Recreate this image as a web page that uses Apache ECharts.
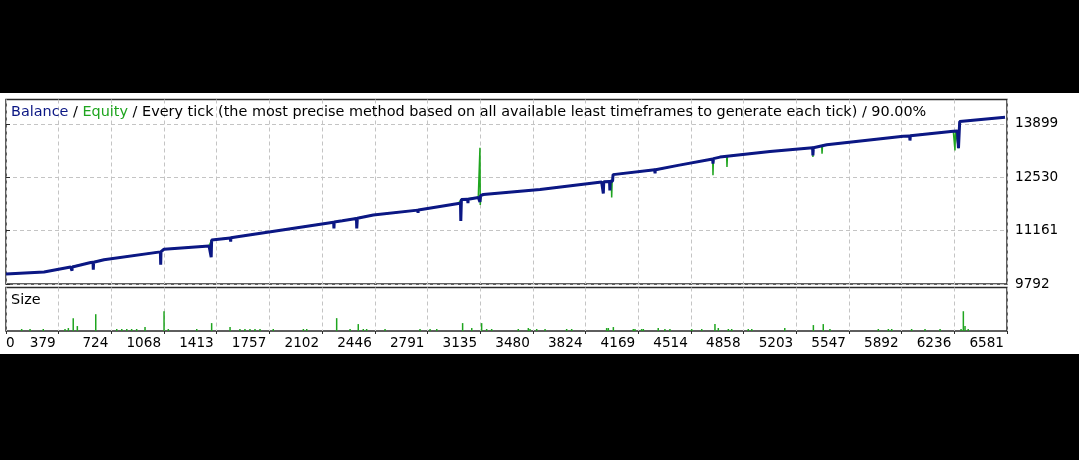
<!DOCTYPE html>
<html>
<head>
<meta charset="utf-8">
<script src="https://cdn.jsdelivr.net/npm/echarts@6/dist/echarts.min.js"></script>
<style>
  html, body { margin: 0; padding: 0; background: #000; }
  #paper { position: absolute; left: 0; top: 93px; width: 1079px; height: 261px; background: #fff; }
  #chart { position: absolute; left: 0; top: 0; width: 1079px; height: 460px; }
</style>
</head>
<body>
<div id="paper"></div>
<div id="chart"></div>
<script>
// ---- data (trade number, account value) ----
const balance = [
  [0,10047],[250,10098],[425,10226],
  [432,10228],[434,10133],[436,10230],
  [557,10343],
  [572,10347],[574,10157],[576,10350],
  [644,10412],
  [1015,10616],[1017,10284],[1019,10620],
  [1039,10685],[1335,10769],
  [1347,10780],[1349,10481],[1352,10922],
  [1475,10975],[1477,10879],[1479,10978],
  [1521,11006],[1740,11134],
  [2154,11378],[2156,11220],[2158,11382],
  [2211,11414],
  [2304,11472],[2306,11220],[2310,11480],
  [2415,11560],
  [2707,11687],[2709,11618],[2711,11690],
  [2974,11858],
  [2988,11862],[2990,11407],[2994,11960],
  [3035,11966],[3037,11866],[3039,11968],
  [3105,12011],
  [3114,12015],[3116,11899],[3120,12060],
  [3138,12088],[3511,12215],[3916,12409],
  [3925,12412],[3927,12113],[3930,12415],
  [3968,12420],[3970,12190],[3973,12425],
  [3988,12428],[3991,12598],
  [4265,12720],[4267,12631],[4270,12723],
  [4418,12835],
  [4646,13000],[4648,12878],[4651,13008],
  [4694,13047],[5023,13192],
  [5303,13285],[5305,13090],[5308,13287],
  [5396,13363],[5899,13582],
  [5941,13590],[5943,13473],[5946,13594],
  [6228,13710],
  [6255,13715],[6262,13276],[6270,13958],
  [6568,14067]
];

const equity = [
  [0,10047],[250,10098],[425,10226],[557,10343],[644,10412],
  [1017,10620],[1039,10685],[1335,10769],[1348,10775],[1352,10922],
  [1521,11006],[1740,11134],[2211,11414],[2415,11560],[2700,11687],
  [2974,11858],[2992,11960],[3105,12011],
  [3114,12015],[3116,13287],[3118,11820],[3122,12060],
  [3138,12088],[3511,12215],[3916,12409],
  [3980,12425],[3982,12011],[3985,12428],[3991,12598],
  [4278,12725],[4418,12835],
  [4646,13000],[4648,12580],[4651,13008],
  [4694,13047],
  [4738,13070],[4740,12792],[4743,13074],
  [5023,13192],
  [5303,13285],[5305,13050],[5308,13287],
  [5363,13340],[5365,13134],[5368,13345],
  [5396,13363],[5899,13582],[6228,13710],
  [6237,13712],[6239,13218],[6242,13714],
  [6262,13276],[6270,13958],[6568,14067]
];

// trade size panel
const sizeTrades = [103,158,245,388,410,442,469,590,728,761,794,826,859,914,1039,1067,
  1254,1352,1473,1538,1571,1604,1637,1670,1757,1955,1977,2174,2262,2316,2349,2371,2492,
  2722,2788,2832,3002,3062,3127,3160,3193,3368,3434,3445,3489,3544,3686,3719,3949,3960,
  3993,4124,4135,4179,4190,4288,4332,4365,4508,4574,4661,4683,4749,4771,4880,4903,5120,
  5308,5373,5417,5735,5801,5823,5954,6042,6141,6279,6294,6305,6326];
const sizeLots = [0.2,0.2,0.2,0.2,0.3,1.3,0.5,1.7,0.2,0.2,0.2,0.2,0.2,0.4,2.0,0.2,
  0.2,0.8,0.4,0.2,0.2,0.2,0.2,0.2,0.2,0.2,0.2,1.3,0.2,0.7,0.2,0.2,0.2,
  0.2,0.2,0.2,0.8,0.3,0.8,0.2,0.2,0.2,0.3,0.2,0.2,0.2,0.2,0.2,0.3,0.3,
  0.4,0.2,0.2,0.2,0.2,0.3,0.2,0.2,0.2,0.2,0.7,0.3,0.2,0.2,0.2,0.2,0.3,
  0.6,0.7,0.2,0.2,0.2,0.2,0.2,0.2,0.2,0.2,2.0,0.5,0.2];

const xTickLabels = ['0','379','724','1068','1413','1757','2102','2446','2791','3135',
  '3480','3824','4169','4514','4858','5203','5547','5892','6236','6581'];
const yTickValues = [9792, 11161, 12530, 13899];

const titleText = 'Balance / Equity / Every tick (the most precise method based on all available least timeframes to generate each tick) / 90.00%';

// ---- layout ----
const FONT = 'DejaVu Sans';
const xMax = 6581;
const xStep = xMax / (xTickLabels.length - 1);
const xTickPos = xTickLabels.map((_, i) => i * xStep);

const ctx = document.createElement('canvas').getContext('2d');
ctx.font = '100px "' + FONT + '"';
const titleSize = 100 * 916 / ctx.measureText(titleText).width;

const NAVY = '#0b1784';
const GREEN = '#1fa51f';
const GRID = '#c4c4c4';

const chart = echarts.init(document.getElementById('chart'), null, { renderer: 'canvas' });
chart.setOption({
  animation: false,
  backgroundColor: 'transparent',
  title: [
    {
      left: 11, top: 105.5, padding: 0,
      text: '{b|Balance} / {g|Equity} / Every tick (the most precise method based on all available least timeframes to generate each tick) / 90.00%',
      textStyle: {
        fontFamily: FONT, fontSize: titleSize, fontWeight: 'normal', color: '#000',
        rich: {
          b: { color: NAVY, fontFamily: FONT, fontSize: titleSize },
          g: { color: GREEN, fontFamily: FONT, fontSize: titleSize }
        }
      }
    },
    {
      left: 11, top: 293.5, padding: 0, text: 'Size',
      textStyle: { fontFamily: FONT, fontSize: titleSize, fontWeight: 'normal', color: '#000' }
    }
  ],
  grid: [
    { left: 6, top: 99.5, width: 1001, height: 184.5, show: true, borderColor: '#2a2a2a', borderWidth: 1.5, backgroundColor: 'transparent' },
    { left: 6, top: 287.5, width: 1001, height: 43.5, show: true, borderColor: '#2a2a2a', borderWidth: 1.5, backgroundColor: 'transparent' }
  ],
  xAxis: [
    {
      type: 'value', gridIndex: 0, min: 0, max: xMax,
      axisLine: { show: false },
      axisTick: { show: false, customValues: xTickPos },
      axisLabel: { show: false },
      splitLine: { show: true, lineStyle: { color: GRID, type: [4, 3], width: 1 } }
    },
    {
      type: 'value', gridIndex: 1, min: 0, max: xMax,
      axisLine: { show: false },
      axisTick: { show: true, customValues: xTickPos, length: 3, lineStyle: { color: '#2a2a2a' } },
      axisLabel: {
        show: true, customValues: xTickPos, margin: 5,
        fontFamily: FONT, fontSize: 13.6, color: '#000',
        align: 'right', alignMinLabel: 'left', alignMaxLabel: 'right',
        padding: [0, 3, 0, 0],
        formatter: (v) => xTickLabels[Math.round(v / xStep)]
      },
      splitLine: { show: true, lineStyle: { color: GRID, type: [4, 3], width: 1 } }
    }
  ],
  yAxis: [
    {
      type: 'value', gridIndex: 0, position: 'right', min: 9792, max: 14525,
      axisLine: { show: false },
      axisTick: { show: true, customValues: yTickValues, length: 4, lineStyle: { color: '#2a2a2a' } },
      axisLabel: {
        show: true, customValues: yTickValues, margin: 8, fontFamily: FONT, fontSize: 13.6, color: '#000',
        formatter: (v) => String(Math.round(v))
      },
      splitLine: { show: true, lineStyle: { color: GRID, type: [4, 3], width: 1 } }
    },
    {
      type: 'value', gridIndex: 1, min: 0, max: 4.4, show: false,
      splitLine: { show: false }
    }
  ],
  series: [
    {
      name: 'Equity', type: 'line', xAxisIndex: 0, yAxisIndex: 0, data: equity,
      showSymbol: false, z: 2, lineStyle: { color: GREEN, width: 1.5, join: 'bevel' }
    },
    {
      name: 'Balance', type: 'line', xAxisIndex: 0, yAxisIndex: 0, data: balance,
      showSymbol: false, z: 3, lineStyle: { color: NAVY, width: 3, join: 'bevel' }
    },
    {
      name: 'Size', type: 'bar', xAxisIndex: 1, yAxisIndex: 1,
      data: sizeTrades.map((t, i) => [t, sizeLots[i]]),
      barWidth: 1.5, itemStyle: { color: GREEN }
    }
  ]
});
</script>
</body>
</html>
